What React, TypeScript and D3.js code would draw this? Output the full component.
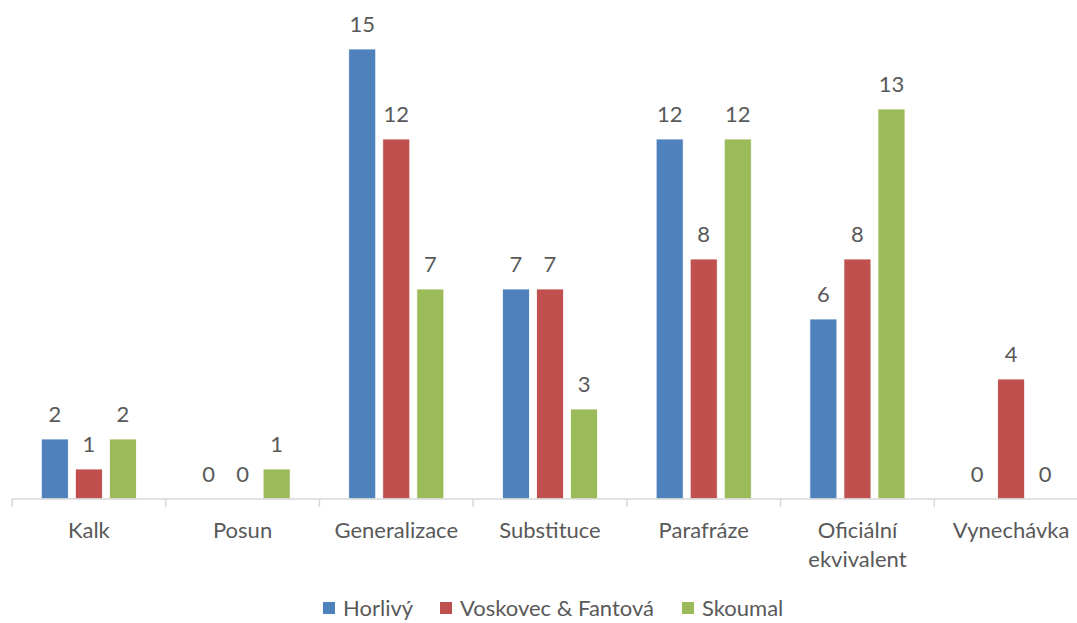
import { useMemo } from "react";
import * as d3 from "d3";

const WIDTH = 1077;
const HEIGHT = 623;

const categories = ["Kalk", "Posun", "Generalizace", "Substituce", "Parafráze", "Oficiální ekvivalent", "Vynechávka"];
const seriesNames = ["Horlivý", "Voskovec & Fantová", "Skoumal"];
const horlivy = [2, 0, 15, 7, 12, 6, 0];
const voskovec = [1, 0, 12, 7, 8, 8, 4];
const skoumal = [2, 1, 7, 3, 12, 13, 0];
const colors = ["#4F81BD", "#C0504D", "#9BBB59"];

const FONT = "Lato, 'Noto Sans', sans-serif";
const TEXT = "#595959";
const FS = 22;

export default function App() {
  const series = [horlivy, voskovec, skoumal];
  const baseline = 499;

  const xScale = useMemo(() => d3.scaleBand().domain(categories).range([12, 1088]), []);
  const inner = useMemo(
    () => d3.scaleBand().domain(seriesNames).range([0, xScale.bandwidth()]).paddingInner(0.206).paddingOuter(0.86),
    [xScale]
  );
  const yScale = useMemo(() => d3.scaleLinear().domain([0, 15]).range([baseline, 49]), []);

  const ticks = [...categories.map((c) => xScale(c)!), 1088];

  const legendX = [323, 440, 682];

  return (
    <div style={{ position: "absolute", left: 0, top: 0 }}>
      <svg width={WIDTH} height={HEIGHT} style={{ display: "block", fontFamily: FONT }}>
        <rect width={WIDTH} height={HEIGHT} fill="#fff" />
        {series.map((vals, si) =>
          vals.map((v, ci) => {
            const x = xScale(categories[ci])! + inner(seriesNames[si])!;
            const y = yScale(v);
            return (
              <g key={`${si}-${ci}`}>
                {v > 0 && (
                  <rect x={x} y={y} width={inner.bandwidth()} height={baseline - y} fill={colors[si]} stroke="#fff" strokeWidth={0.8} />
                )}
                <text x={x + inner.bandwidth() / 2} y={y - 17} textAnchor="middle" fontSize={FS} fill={TEXT}>
                  {v}
                </text>
              </g>
            );
          })
        )}
        <line x1={12} x2={1088} y1={baseline} y2={baseline} stroke="#D9D9D9" strokeWidth={1.5} />
        {ticks.map((t, i) => (
          <line key={i} x1={t} x2={t} y1={baseline} y2={507} stroke="#D9D9D9" strokeWidth={1.5} />
        ))}
        {categories.map((c) => {
          const cx = xScale(c)! + xScale.bandwidth() / 2;
          const lines = c === "Oficiální ekvivalent" ? ["Oficiální", "ekvivalent"] : [c];
          return (
            <text key={c} x={cx} textAnchor="middle" fontSize={FS} fill={TEXT}>
              {lines.map((l, i) => (
                <tspan key={i} x={cx} y={538 + i * 29}>
                  {l}
                </tspan>
              ))}
            </text>
          );
        })}
        {seriesNames.map((name, i) => (
          <g key={name}>
            <rect x={legendX[i]} y={602} width={12} height={12} fill={colors[i]} />
            <text x={legendX[i] + 20} y={616} fontSize={FS} fill={TEXT}>
              {name}
            </text>
          </g>
        ))}
      </svg>
    </div>
  );
}
